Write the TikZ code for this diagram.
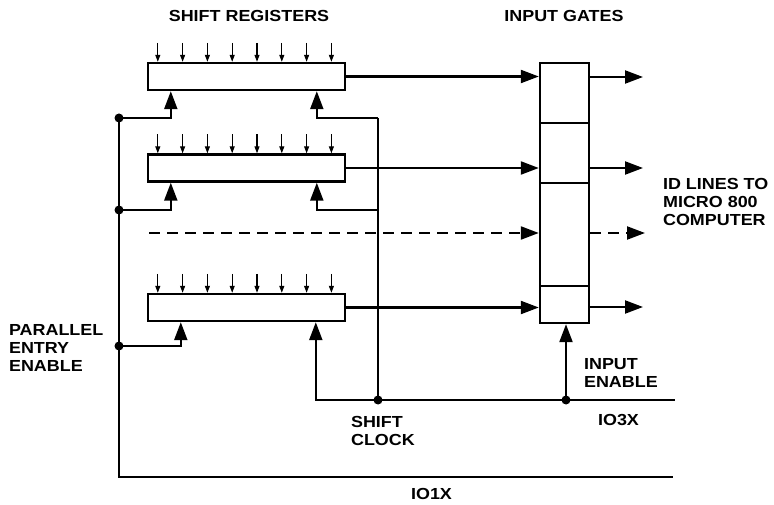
\documentclass[tikz,border=0pt]{standalone}
\usepackage{fontspec}
\setmainfont{Liberation Sans}[FakeStretch=1.12]
\usetikzlibrary{arrows.meta,calc}
\begin{document}
\begin{tikzpicture}[x=1pt,y=-1pt,line width=2.2pt,
  reg/.style={draw,line width=2.4pt,minimum width=197pt,minimum height=27pt,inner sep=0pt},
  cell/.style={draw,line width=2.4pt,minimum width=49pt,inner sep=0pt},
  big/.style={-{Triangle[length=18pt,width=13pt]}},
  small/.style={line width=1.1pt,-{Triangle[length=7pt,width=5pt]}},
  dsh/.style={dash pattern=on 11pt off 7pt},
  lbl/.style={font=\bfseries\fontsize{16}{18.3}\selectfont,align=left,inner sep=0pt,anchor=north west},
  dot/.style={circle,fill,inner sep=0pt,minimum size=9pt}]
\useasboundingbox (0,0) rectangle (774,505);

% shift registers
\node[reg] (r1) at (246.5,76.5) {};
\node[reg] (r2) at (246.5,168) {};
\node[reg] (r3) at (246.5,307.5) {};

% input gates
\node[cell,minimum height=60pt] (g1) at (564.5,93) {};
\node[cell,minimum height=60pt] (g2) at (564.5,153) {};
\node[cell,minimum height=103pt] (g3) at (564.5,234.5) {};
\node[cell,minimum height=37pt] (g4) at (564.5,304.5) {};

% parallel inputs
\foreach \r in {r1,r2,r3}
  \foreach \i in {0,...,7}
    \draw[small] ($(\r.north west)+(11+24.8*\i,-19)$) -- ($(\r.north west)+(11+24.8*\i,0)$);

% register outputs to gates
\draw[big] (r1.east) -- (r1.east -| g1.west);
\draw[big] (r2.east) -- (r2.east -| g2.west);
\coordinate (dl) at (149,233);
\draw[big,dsh] (dl) -- (dl -| g3.west);
\draw[big] (r3.east) -- (r3.east -| g4.west);

% gate outputs
\coordinate (o1) at (643,77);
\coordinate (o2) at (643,168);
\coordinate (o3) at (645,233);
\coordinate (o4) at (643,307);
\draw[big] (o1 -| g1.east) -- (o1);
\draw[big] (o2 -| g2.east) -- (o2);
\draw[big,dsh] (o3 -| g3.east) -- (o3);
\draw[big] (o4 -| g4.east) -- (o4);

% parallel entry enable bus
\node[dot] (d1) at (119,118) {};
\node[dot] (d2) at (119,210) {};
\node[dot] (d3) at (119,346) {};
\coordinate (b1) at (119,477);
\coordinate (b2) at (673,477);
\draw (d1.center) -- (b1) -- (b2);
\draw[big] (d1.center) -| ($(r1.south west)+(24,0)$);
\draw[big] (d2.center) -| ($(r2.south west)+(24,0)$);
\draw[big] (d3.center) -| ($(r3.south west)+(34,0)$);

% shift clock
\coordinate (s1) at (378,118);
\coordinate (s2) at (378,210);
\node[dot] (sck) at (378,400) {};
\draw (s1) -- (sck.center);
\draw[big] (s1) -| ($(r1.south west)+(170,0)$);
\draw[big] (s2) -| ($(r2.south west)+(170,0)$);
\draw[big] (sck.center) -| ($(r3.south west)+(169,0)$);

% input enable
\node[dot] (ie) at (566,400) {};
\coordinate (e3) at (675,400);
\draw (sck.center) -- (e3);
\draw[big] (ie.center) -- (ie.center |- g4.south);

% labels
\node[lbl,anchor=north] (t1) at (249,9.5) {SHIFT REGISTERS};
\node[lbl,anchor=north] (t2) at (564,9.5) {INPUT GATES};
\node[lbl] (t3) at (662,177) {ID LINES TO\\MICRO 800\\COMPUTER};
\node[lbl] (t4) at (8,323) {PARALLEL\\ENTRY\\ENABLE};
\node[lbl] (t5) at (350,415) {SHIFT\\CLOCK};
\node[lbl] (t6) at (583,357) {INPUT\\ENABLE};
\node[lbl] (t7) at (597,413) {IO3X};
\node[lbl] (t8) at (410,487) {IO1X};
\end{tikzpicture}
\end{document}
